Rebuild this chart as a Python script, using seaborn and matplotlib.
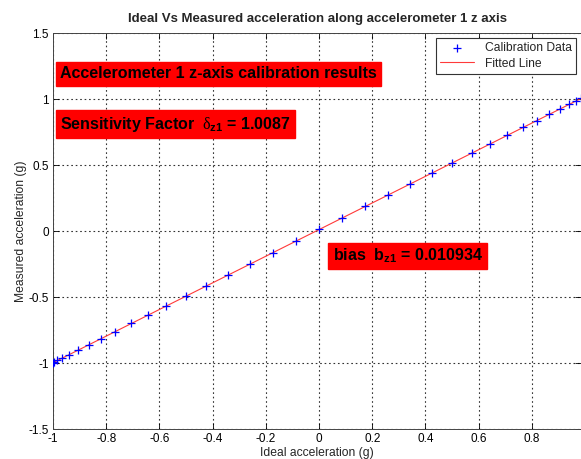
import matplotlib
matplotlib.use("Agg")
import matplotlib.pyplot as plt
import seaborn as sns
import pandas as pd

ideal = [-1.0, -0.996, -0.985, -0.966, -0.940, -0.906, -0.866, -0.819, -0.766,
         -0.707, -0.643, -0.574, -0.500, -0.423, -0.342, -0.259, -0.174, -0.087,
         0.0, 0.087, 0.174, 0.259, 0.342, 0.423, 0.500, 0.574, 0.643, 0.707,
         0.766, 0.819, 0.866, 0.906, 0.940, 0.966, 0.985]
measured = [-1.001, -0.993, -0.981, -0.962, -0.939, -0.905, -0.860, -0.816, -0.764,
            -0.700, -0.640, -0.566, -0.490, -0.418, -0.336, -0.248, -0.166, -0.075,
            0.012, 0.101, 0.188, 0.270, 0.357, 0.440, 0.513, 0.592, 0.658, 0.726,
            0.786, 0.835, 0.887, 0.924, 0.960, 0.984, 1.004]
fit_x = [-1.0, 0.985]
fit_y = [-0.998, 1.004]

title = "Ideal Vs Measured acceleration along accelerometer 1 z axis"
xlabel = "Ideal acceleration (g)"
ylabel = "Measured acceleration (g)"
xticks = [-1, -0.8, -0.6, -0.4, -0.2, 0, 0.2, 0.4, 0.6, 0.8]
xticklabels = ["-1", "-0.8", "-0.6", "-0.4", "-0.2", "0", "0.2", "0.4", "0.6", "0.8"]
yticks = [-1.5, -1, -0.5, 0, 0.5, 1, 1.5]
yticklabels = ["-1.5", "-1", "-0.5", "0", "0.5", "1", "1.5"]

sns.set_style("ticks")
plt.rcParams['font.family'] = ['Liberation Sans', 'DejaVu Sans']
plt.rcParams['mathtext.fontset'] = 'custom'
plt.rcParams['mathtext.rm'] = 'Liberation Sans:bold'
plt.rcParams['mathtext.it'] = 'Liberation Serif'
plt.rcParams['mathtext.bf'] = 'Liberation Sans:bold'

fig = plt.figure(figsize=(5.81, 4.59), dpi=100)
ax = fig.add_axes([53/581, 1 - 429/459, 1 - 53/581, (429 - 33)/459])

df = pd.DataFrame({"ideal": ideal, "measured": measured})
dfit = pd.DataFrame({"x": fit_x, "y": fit_y})

sns.scatterplot(data=df, x="ideal", y="measured", ax=ax, marker="+", color="#0000ff",
                s=30, linewidth=0.9, label="Calibration Data", zorder=3)
sns.lineplot(data=dfit, x="x", y="y", ax=ax, color="#ff3a3a", linewidth=0.8,
             label="Fitted Line", zorder=2)

ax.set_xlim(-1, 0.985)
ax.set_ylim(-1.5, 1.5)
ax.set_xticks(xticks)
ax.set_xticklabels(xticklabels)
ax.set_yticks(yticks)
ax.set_yticklabels(yticklabels)
ax.tick_params(direction="in", length=4, width=0.6, labelsize=8.5, top=True, right=True,
               pad=3, colors="black")
ax.grid(True, linestyle=(0, (1.5, 2.5)), color="#333333", linewidth=0.8)
for sp in ax.spines.values():
    sp.set_linewidth(0.7)
    sp.set_color("#444444")

ax.set_title(title, fontsize=9.5, fontweight="bold", pad=8)
ax.set_xlabel(xlabel, fontsize=8.7, labelpad=1)
ax.set_ylabel(ylabel, fontsize=8.7, labelpad=1)

box = dict(facecolor="red", edgecolor="red", pad=3)
ax.text(-0.973, 1.19, "Accelerometer 1 z-axis calibration results", fontsize=11.5,
        fontweight="bold", color="black", va="center", ha="left", bbox=box, zorder=5)
ax.text(-0.973, 0.81, r"Sensitivity Factor  $\delta_{\mathbf{z1}}$ = 1.0087", fontsize=11.5,
        fontweight="bold", color="black", va="center", ha="left", bbox=box, zorder=5)
ax.text(0.051, -0.19, r"bias  b$_{\mathbf{z1}}$ = 0.010934", fontsize=11.5,
        fontweight="bold", color="black", va="center", ha="left", bbox=box, zorder=5)

leg = ax.legend(loc="upper right", fontsize=8.7, frameon=True, fancybox=False,
                edgecolor="#333333", framealpha=1, borderpad=0.35, labelspacing=0.3,
                handlelength=2.8, handletextpad=0.9, borderaxespad=0.4)
leg.get_frame().set_linewidth(0.8)

fig.savefig("out.png", dpi=100)
